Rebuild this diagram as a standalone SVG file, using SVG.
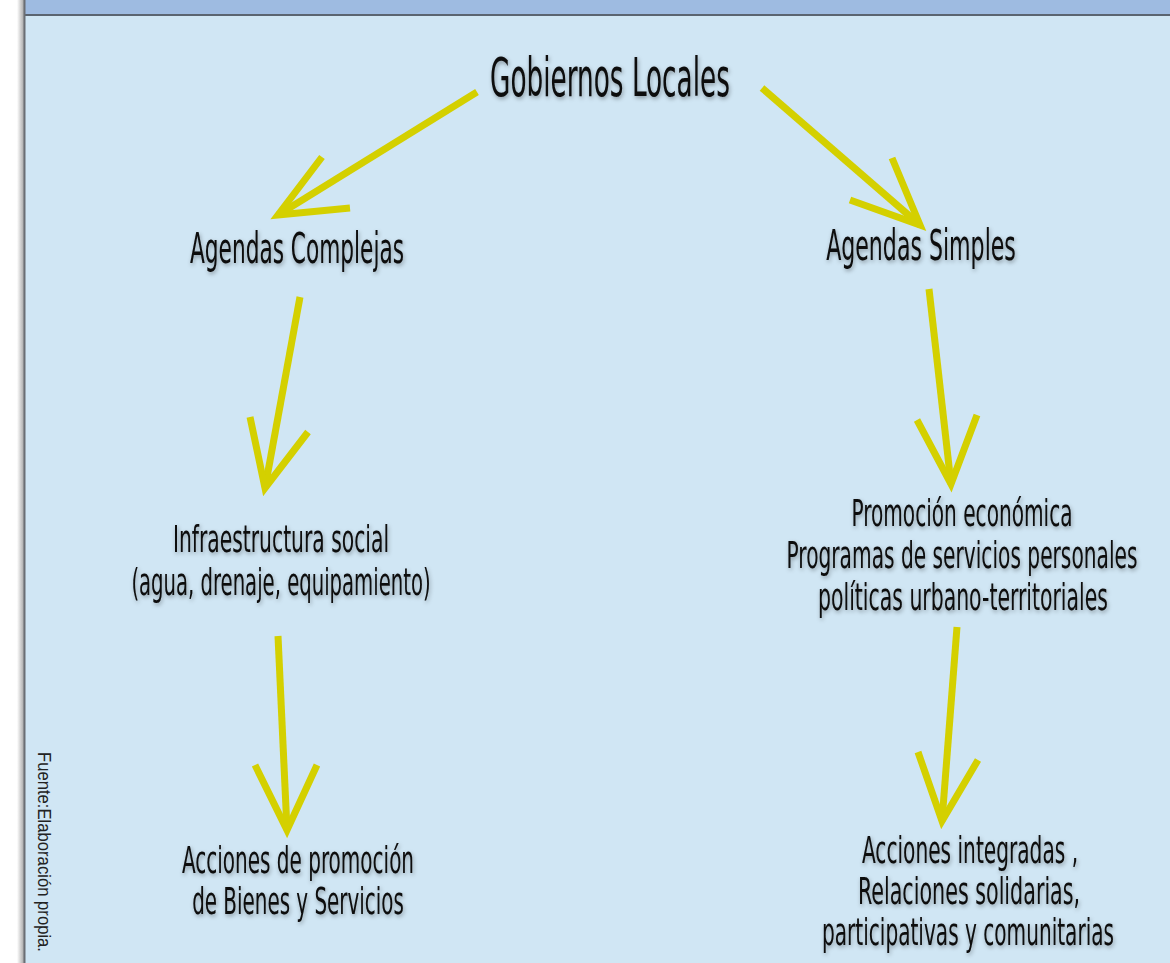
<svg xmlns="http://www.w3.org/2000/svg" width="1170" height="963" viewBox="0 0 1170 963">
<defs>
<style>
.lbl{font-family:"Liberation Sans Narrow","DejaVu Sans Condensed","Liberation Sans",sans-serif;fill:#0a0a0a;text-anchor:middle}
.node{filter:url(#sh)}
.big{font-size:53px}
.mid{font-size:43px}
.sm{font-size:38px}
.arr{fill:none;stroke:#D4D000;stroke-width:7;stroke-linejoin:miter;stroke-linecap:butt}
.src{font-family:"Liberation Sans",Arial,sans-serif;font-size:16px;fill:#222}
</style>
<filter id="sh" filterUnits="userSpaceOnUse" x="0" y="0" width="1170" height="963">
<feDropShadow dx="1" dy="2" stdDeviation="2" flood-color="#000" flood-opacity="0.35"/>
</filter>
<linearGradient id="edge" x1="0" y1="0" x2="1" y2="0">
<stop offset="0" stop-color="#ffffff"/>
<stop offset="1" stop-color="#9a9a9a"/>
</linearGradient>
</defs>
<rect x="0" y="0" width="1170" height="963" fill="#ffffff"/>
<rect x="17" y="0" width="8" height="963" fill="url(#edge)"/>
<rect x="25" y="0" width="1145" height="963" fill="#D0E6F4"/>
<rect x="25" y="0" width="1145" height="15" fill="#9EBBE1"/>
<rect x="25" y="14" width="1145" height="2" fill="#5A6470"/>
<rect x="23.5" y="0" width="2" height="963" fill="#6A6E74"/>

<g id="connectors">
<g id="a1"><path class="arr" d="M477,92 L278,215"/><path class="arr" d="M322,157 L278,215 L350,208"/></g>
<g id="a2"><path class="arr" d="M762,88 L920,225"/><path class="arr" d="M892,158 L920,225 L850,200"/></g>
<g id="a3"><path class="arr" d="M300,297 L265,488"/><path class="arr" d="M250,417 L265,488 L308,432"/></g>
<g id="a4"><path class="arr" d="M929,289 L951,484"/><path class="arr" d="M917,420 L951,484 L977,415"/></g>
<g id="a5"><path class="arr" d="M278,636 L287,830"/><path class="arr" d="M255,765 L287,830 L317,765"/></g>
<g id="a6"><path class="arr" d="M957,627 L942,821"/><path class="arr" d="M918,752 L942,821 L978,760"/></g>
</g>

<g id="n-gobiernos" class="node"><text class="lbl big" transform="translate(610,96) scale(0.55,1)" textLength="436" lengthAdjust="spacingAndGlyphs">Gobiernos Locales</text></g>
<g id="n-complejas" class="node"><text class="lbl mid" transform="translate(297,263) scale(0.55,1)" textLength="389" lengthAdjust="spacingAndGlyphs">Agendas Complejas</text></g>
<g id="n-simples" class="node"><text class="lbl mid" transform="translate(921,260) scale(0.55,1)" textLength="345" lengthAdjust="spacingAndGlyphs">Agendas Simples</text></g>
<g id="n-infra" class="node">
<text class="lbl sm" transform="translate(281,552) scale(0.55,1)" textLength="393" lengthAdjust="spacingAndGlyphs">Infraestructura social</text>
<text class="lbl sm" transform="translate(281,595) scale(0.55,1)" textLength="544" lengthAdjust="spacingAndGlyphs">(agua, drenaje, equipamiento)</text>
</g>
<g id="n-promocion" class="node">
<text class="lbl sm" transform="translate(962,526) scale(0.55,1)" textLength="402" lengthAdjust="spacingAndGlyphs">Promoción económica</text>
<text class="lbl sm" transform="translate(962,568) scale(0.55,1)" textLength="638" lengthAdjust="spacingAndGlyphs">Programas de servicios personales</text>
<text class="lbl sm" transform="translate(963,610) scale(0.55,1)" textLength="527" lengthAdjust="spacingAndGlyphs">políticas urbano-territoriales</text>
</g>
<g id="n-acciones-bienes" class="node">
<text class="lbl sm" transform="translate(298,873) scale(0.55,1)" textLength="422" lengthAdjust="spacingAndGlyphs">Acciones de promoción</text>
<text class="lbl sm" transform="translate(298,914) scale(0.55,1)" textLength="385" lengthAdjust="spacingAndGlyphs">de Bienes y Servicios</text>
</g>
<g id="n-acciones-integradas" class="node">
<text class="lbl sm" transform="translate(970,863) scale(0.55,1)" textLength="393" lengthAdjust="spacingAndGlyphs">Acciones integradas ,</text>
<text class="lbl sm" transform="translate(969,904) scale(0.55,1)" textLength="404" lengthAdjust="spacingAndGlyphs">Relaciones solidarias,</text>
<text class="lbl sm" transform="translate(968,945) scale(0.55,1)" textLength="531" lengthAdjust="spacingAndGlyphs">participativas y comunitarias</text>
</g>
<g id="fuente"><text class="src" transform="translate(38,752) rotate(90) scale(1,1.15)" textLength="200" lengthAdjust="spacingAndGlyphs">Fuente:Elaboración propia.</text></g>
</svg>
